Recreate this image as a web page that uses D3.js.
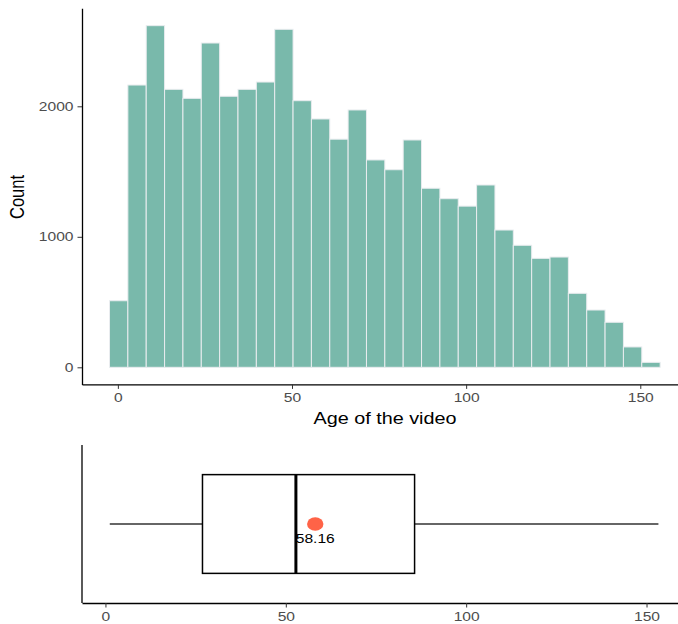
<!DOCTYPE html>
<html>
<head>
<meta charset="utf-8">
<script src="https://cdn.jsdelivr.net/npm/d3@7"></script>
<style>
  body { margin: 0; background: #fff; }
  svg text { font-family: "Liberation Sans", Arial, sans-serif; }
</style>
</head>
<body>
<div id="chart"></div>
<script>
// Histogram counts per bin (30 bins)
const binStart = -2.4;
const binWidth = 5.27;
const binCounts = [510, 2163, 2618, 2130, 2061, 2485, 2077, 2130, 2186, 2590,
                   2043, 1903, 1748, 1972, 1589, 1514, 1742, 1372, 1292, 1235,
                   1397, 1052, 935, 835, 845, 567, 439, 345, 156, 38];

// Boxplot summary of the same variable
const boxStats = { low: 1.2, q1: 26.9, median: 52.8, q3: 85.7, high: 153.3 };
const meanAge = 58.16;

const xTicks = [0, 50, 100, 150];
const yTicks = [0, 1000, 2000];

const W = 678, H = 624;
const stretch = 1.2; // the picture is a bit wider than tall, text looks stretched

const svg = d3.select("#chart")
    .append("svg")
    .attr("width", W)
    .attr("height", H);

const bins = binCounts.map((c, i) => ({
    x0: binStart + i * binWidth,
    x1: binStart + (i + 1) * binWidth,
    count: c
}));

// ---------- top: histogram ----------
const x = d3.scaleLinear().domain([-10.3, 163.7]).range([82, 688]);
const y = d3.scaleLinear().domain([-131, 2751]).range([384.4, 8.3]);

svg.selectAll("rect.bar")
    .data(bins)
    .join("rect")
    .attr("class", "bar")
    .attr("x", d => x(d.x0))
    .attr("y", d => y(d.count))
    .attr("width", d => x(d.x1) - x(d.x0))
    .attr("height", d => y(0) - y(d.count))
    .attr("fill", "#79b9ab")
    .attr("stroke", "#e9ecef")
    .attr("stroke-width", 1);

function styleAxis(g) {
    g.select(".domain").attr("stroke", "#000").attr("stroke-width", 1.3);
    g.selectAll(".tick line").attr("stroke", "#333").attr("stroke-width", 1);
    g.selectAll(".tick text")
        .attr("fill", "#4d4d4d")
        .style("font-size", "13px")
        .attr("transform", `scale(${stretch},1)`);
}

svg.append("g")
    .attr("transform", `translate(0,384.4)`)
    .call(d3.axisBottom(x).tickValues(xTicks).tickSize(4.5).tickSizeOuter(0).tickPadding(4))
    .call(styleAxis);

const yAxis = svg.append("g")
    .attr("transform", `translate(82,0)`)
    .call(d3.axisLeft(y).tickValues(yTicks).tickFormat(d3.format("d"))
        .tickSize(4.5).tickSizeOuter(0).tickPadding(4))
    .call(styleAxis);
// keep the right edge of the stretched labels next to the ticks
yAxis.selectAll(".tick text").attr("x", -8.5 / stretch);

svg.append("text")
    .attr("transform", `translate(385,424) scale(${stretch},1)`)
    .attr("text-anchor", "middle")
    .style("font-size", "16.5px")
    .attr("fill", "#000")
    .text("Age of the video");

svg.append("text")
    .attr("transform", `translate(24,197) scale(${stretch},1) rotate(-90)`)
    .attr("text-anchor", "middle")
    .style("font-size", "16.5px")
    .attr("fill", "#000")
    .text("Count");

// ---------- bottom: boxplot ----------
const xb = d3.scaleLinear().domain([-6.5, 161.5]).range([82, 688]);
const yb = d3.scaleLinear().domain([0.4, 1.6]).range([603, 445]);
const cy = yb(1);

const box = svg.append("g");

// whiskers
box.append("line")
    .attr("x1", xb(boxStats.low)).attr("x2", xb(boxStats.q1))
    .attr("y1", cy).attr("y2", cy)
    .attr("stroke", "#333").attr("stroke-width", 1.4);
box.append("line")
    .attr("x1", xb(boxStats.q3)).attr("x2", xb(boxStats.high))
    .attr("y1", cy).attr("y2", cy)
    .attr("stroke", "#333").attr("stroke-width", 1.4);

// box
box.append("rect")
    .attr("x", xb(boxStats.q1))
    .attr("y", yb(1.375))
    .attr("width", xb(boxStats.q3) - xb(boxStats.q1))
    .attr("height", yb(0.625) - yb(1.375))
    .attr("fill", "#fff")
    .attr("stroke", "#000")
    .attr("stroke-width", 1.5);

// median
box.append("line")
    .attr("x1", xb(boxStats.median)).attr("x2", xb(boxStats.median))
    .attr("y1", yb(1.375)).attr("y2", yb(0.625))
    .attr("stroke", "#000").attr("stroke-width", 3);

// mean point + label
box.append("ellipse")
    .attr("cx", xb(meanAge))
    .attr("cy", cy)
    .attr("rx", 8.2)
    .attr("ry", 6.7)
    .attr("fill", "#ff6347");

box.append("text")
    .attr("transform", `translate(${xb(meanAge)},${cy + 19}) scale(${stretch},1)`)
    .attr("text-anchor", "middle")
    .style("font-size", "13px")
    .attr("fill", "#000")
    .text(meanAge.toFixed(2));

svg.append("g")
    .attr("transform", `translate(0,603)`)
    .call(d3.axisBottom(xb).tickValues(xTicks).tickSize(4.5).tickSizeOuter(0).tickPadding(4))
    .call(styleAxis);

// y axis line only (no ticks)
svg.append("line")
    .attr("x1", 82).attr("x2", 82)
    .attr("y1", 445).attr("y2", 603)
    .attr("stroke", "#000").attr("stroke-width", 1.3);
</script>
</body>
</html>
